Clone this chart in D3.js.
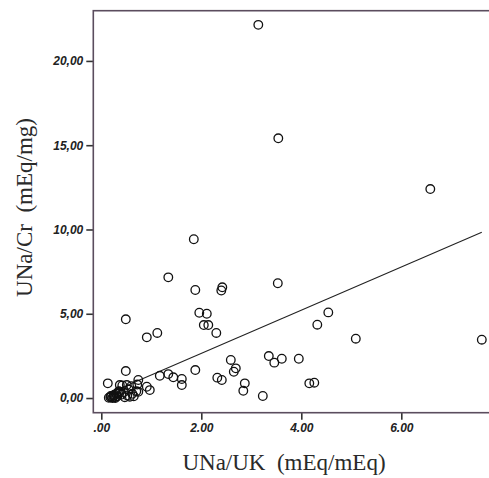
<!DOCTYPE html>
<html>
<head>
<meta charset="utf-8">
<script src="https://cdnjs.cloudflare.com/ajax/libs/d3/7.8.5/d3.min.js"></script>
<style>
  body { margin: 0; background: #fff; }
  .tick text { font-family: "Liberation Sans", Arial, sans-serif; font-weight: bold; font-style: italic; font-size: 12px; fill: #222; }
  .title { font-family: "Liberation Serif", "Times New Roman", serif; font-size: 23px; fill: #2a2a2a; white-space: pre; }
</style>
</head>
<body>
<div class="chart"></div>
<script>
//----Data----
const xVals = [3.14, 3.54, 6.58, 1.85, 1.34, 1.88, 2.42, 2.40, 3.53, 0.49,
  1.96, 2.11, 2.05, 2.14, 2.30, 1.12, 0.91, 4.32, 4.54, 5.09,
  7.61, 3.35, 3.46, 3.61, 3.95, 2.59, 2.69, 2.65, 1.88, 0.49,
  1.17, 1.34, 1.44, 1.61, 1.61, 2.32, 2.41, 2.87, 2.84, 3.23,
  4.16, 4.26, 0.13, 0.74, 0.97, 0.91,
  0.15, 0.18, 0.20, 0.22, 0.25, 0.27, 0.30, 0.32, 0.35, 0.37,
  0.40, 0.42, 0.45, 0.47, 0.51, 0.52, 0.55, 0.57, 0.60, 0.62,
  0.65, 0.70, 0.72, 0.74, 0.28, 0.33, 0.37, 0.24, 0.19, 0.26];
const yVals = [22.14, 15.41, 12.40, 9.42, 7.16, 6.41, 6.57, 6.38, 6.81, 4.67,
  5.06, 5.00, 4.33, 4.33, 3.86, 3.86, 3.60, 4.35, 5.08, 3.52,
  3.46, 2.49, 2.10, 2.33, 2.33, 2.26, 1.76, 1.56, 1.66, 1.60,
  1.32, 1.42, 1.23, 1.13, 0.77, 1.21, 1.07, 0.87, 0.43, 0.12,
  0.87, 0.91, 0.87, 1.07, 0.47, 0.67,
  0.02, 0.05, 0.10, 0.00, 0.15, 0.05, 0.25, 0.10, 0.40, 0.77,
  0.20, 0.75, 0.35, 0.05, 0.77, 0.15, 0.50, 0.08, 0.70, 0.25,
  0.10, 0.40, 0.80, 0.37, 0.00, 0.30, 0.37, 0.08, 0.12, 0.20];

// fit line end points
const fitX = [0.13, 7.61];
const fitY = [0.25, 9.83];

const xTicks = [0, 2, 4, 6];
const xTickLabels = [".00", "2.00", "4.00", "6.00"];
const yTicks = [0, 5, 10, 15, 20];
const yTickLabels = ["0,00", "5,00", "10,00", "15,00", "20,00"];

//----Chart Initialization----
const width = 489, height = 478;
const frame = ({left: 93.3, top: 10.7, bottom: 412.7, right: 496.3});

const svg = d3.select(".chart").append("svg")
    .attr("width", width)
    .attr("height", height);

const xScale = d3.scaleLinear()
    .domain([-0.16, 7.9])
    .range([frame.left, frame.right]);

const yScale = d3.scaleLinear()
    .domain([-0.87, 22.98])
    .range([frame.bottom, frame.top]);

const xAxis = d3.axisBottom(xScale)
    .tickValues(xTicks)
    .tickSize(7)
    .tickPadding(4)
    .tickFormat((d, i) => xTickLabels[i]);

const yAxis = d3.axisLeft(yScale)
    .tickValues(yTicks)
    .tickSize(7)
    .tickPadding(3)
    .tickFormat((d, i) => yTickLabels[i]);

svg.append("g")
    .attr("class", "axis x-axis")
    .attr("transform", `translate(0, ${frame.bottom})`)
    .call(xAxis);

svg.append("g")
    .attr("class", "axis y-axis")
    .attr("transform", `translate(${frame.left}, 0)`)
    .call(yAxis);

svg.selectAll(".axis .domain").remove();
svg.selectAll(".axis .tick line")
    .attr("stroke", "#333")
    .attr("stroke-width", 1.6);

// frame
svg.append("rect")
    .attr("x", frame.left)
    .attr("y", frame.top)
    .attr("width", frame.right - frame.left)
    .attr("height", frame.bottom - frame.top)
    .attr("fill", "none")
    .attr("stroke", "#5b4d5e")
    .attr("stroke-width", 1.6);

// fit line
svg.append("line")
    .attr("x1", xScale(fitX[0]))
    .attr("y1", yScale(fitY[0]))
    .attr("x2", xScale(fitX[1]))
    .attr("y2", yScale(fitY[1]))
    .attr("stroke", "#222")
    .attr("stroke-width", 1.1);

// points
svg.selectAll(".dot")
    .data(xVals.map((x, i) => ({x: x, y: yVals[i]})))
    .enter()
    .append("circle")
    .attr("class", "dot")
    .attr("cx", d => xScale(d.x))
    .attr("cy", d => yScale(d.y))
    .attr("r", 4.3)
    .attr("fill", "none")
    .attr("stroke", "#111")
    .attr("stroke-width", 1.3);

// axis titles
svg.append("text")
    .attr("class", "title")
    .attr("x", 284)
    .attr("y", 470)
    .attr("text-anchor", "middle")
    .text("UNa/UK  (mEq/mEq)");

svg.append("text")
    .attr("class", "title")
    .attr("transform", "translate(31.5, 207.5) rotate(-90)")
    .attr("text-anchor", "middle")
    .text("UNa/Cr  (mEq/mg)");
</script>
</body>
</html>
